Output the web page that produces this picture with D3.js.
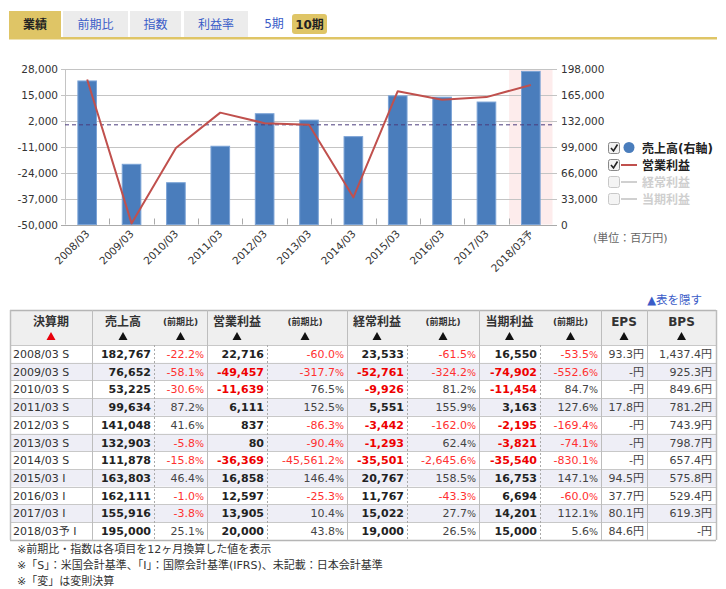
<!DOCTYPE html>
<html><head><meta charset="utf-8">
<script src="https://cdn.jsdelivr.net/npm/d3@7"></script>
<style>
html,body{margin:0;padding:0;background:#fff;}
svg{display:block;font-family:"DejaVu Sans","Noto Sans CJK JP",sans-serif;}
</style></head><body>
<svg id="c" width="726" height="589"></svg>
<script>
// ---- data ----
const categories = ["2008/03","2009/03","2010/03","2011/03","2012/03","2013/03","2014/03","2015/03","2016/03","2017/03","2018/03予"];
const periods = ["2008/03 S","2009/03 S","2010/03 S","2011/03 S","2012/03 S","2013/03 S","2014/03 S","2015/03 I","2016/03 I","2017/03 I","2018/03予 I"];
const sales = [182767,76652,53225,99634,141048,132903,111878,163803,162111,155916,195000];
const salesYoY = [-22.2,-58.1,-30.6,87.2,41.6,-5.8,-15.8,46.4,-1.0,-3.8,25.1];
const opProfit = [22716,-49457,-11639,6111,837,80,-36369,16858,12597,13905,20000];
const opYoY = [-60.0,-317.7,76.5,152.5,-86.3,-90.4,-45561.2,146.4,-25.3,10.4,43.8];
const ordProfit = [23533,-52761,-9926,5551,-3442,-1293,-35501,20767,11767,15022,19000];
const ordYoY = [-61.5,-324.2,81.2,155.9,-162.0,62.4,-2645.6,158.5,-43.3,27.7,26.5];
const netProfit = [16550,-74902,-11454,3163,-2195,-3821,-35540,16753,6694,14201,15000];
const netYoY = [-53.5,-552.6,84.7,127.6,-169.4,-74.1,-830.1,147.1,-60.0,112.1,5.6];
const eps = [93.3,null,null,17.8,null,null,null,94.5,37.7,80.1,84.6];
const bps = [1437.4,925.3,849.6,781.2,743.9,798.7,657.4,575.8,529.4,619.3,null];
const leftTicks = [-50000,-37000,-24000,-11000,2000,15000,28000];
const rightTicks = [0,33000,66000,99000,132000,165000,198000];
const tabs = ["業績","前期比","指数","利益率"];
const legendItems = [
  {name:"売上高(右軸)", kind:"dot", on:true},
  {name:"営業利益", kind:"line", on:true},
  {name:"経常利益", kind:"line", on:false},
  {name:"当期利益", kind:"line", on:false}
];
const notes = ["※前期比・指数は各項目を12ヶ月換算した値を表示",
  "※「S」：米国会計基準、「I」：国際会計基準(IFRS)、未記載：日本会計基準",
  "※「変」は変則決算"];

const svg = d3.select("#c");
const loc = d3.formatLocale({decimal:".",thousands:",",grouping:[3],currency:["",""],minus:"-"});
const fmtN = loc.format(",");
const fmtP = loc.format(",.1f");

// ---- tabs ----
const tabX = [[9,61],[63,128],[130,181],[184,248]];
tabs.forEach((t,i)=>{
  const [a,b] = tabX[i];
  svg.append("rect").attr("x",a).attr("y",11).attr("width",b-a).attr("height",27)
    .attr("fill", i===0 ? "#dfc566" : "#ececec");
  svg.append("text").attr("x",(a+b)/2).attr("y",29).attr("text-anchor","middle")
    .attr("font-size",12).attr("font-weight", i===0?"bold":"normal")
    .attr("fill", i===0 ? "#222" : "#3a5cc8").text(t);
});
svg.append("text").attr("x",274).attr("y",28).attr("text-anchor","middle").attr("font-size",12).attr("fill","#3a5cc8").text("5期");
svg.append("rect").attr("x",292).attr("y",14).attr("width",35).attr("height",20).attr("rx",3).attr("fill","#dfc566");
svg.append("text").attr("x",309.5).attr("y",28.5).attr("text-anchor","middle").attr("font-size",12).attr("font-weight","bold").attr("fill","#222").text("10期");
svg.append("rect").attr("x",9).attr("y",37).attr("width",708).attr("height",2.5).attr("fill","#dfc566");

// ---- chart ----
const L = 65, R = 553, T = 69, B = 224.5;
const x = d3.scaleBand().domain(categories).range([L,R]).paddingInner(0.58).paddingOuter(0.29);
const yL = d3.scaleLinear().domain([-50000,28000]).range([B,T]);
const yR = d3.scaleLinear().domain([0,198000]).range([B,T]);
const step = x.step();

// forecast highlight
const lastCat = categories[categories.length-1];
svg.append("rect").attr("x", x(lastCat) - x.paddingOuter()*step + 0.5).attr("y",T)
  .attr("width", step - 1).attr("height", B-T).attr("fill","#fdecec");

// gridlines
const g = svg.append("g");
leftTicks.forEach(v=>{
  g.append("line").attr("x1",L-4).attr("x2",R+4).attr("y1",Math.round(yL(v))+0.5).attr("y2",Math.round(yL(v))+0.5)
    .attr("stroke",v===-50000?"#aaa":"#c4c4c4").attr("stroke-width",1);
});
g.append("line").attr("x1",L+0.5).attr("x2",L+0.5).attr("y1",T).attr("y2",B).attr("stroke","#c4c4c4");
for(let i=1;i<categories.length;i++){
  const xx = Math.round(L + i*step)+0.5;
  g.append("line").attr("x1",xx).attr("x2",xx).attr("y1",B-6).attr("y2",B).attr("stroke","#aaa");
}
svg.append("g").selectAll("text").data(leftTicks).join("text")
  .attr("x",58).attr("y",d=>yL(d)+4).attr("text-anchor","end").attr("font-size",10.5).attr("fill","#333")
  .text(d=>fmtN(d));
svg.append("g").selectAll("text").data(rightTicks).join("text")
  .attr("x",561).attr("y",d=>yR(d)+4).attr("text-anchor","start").attr("font-size",10.5).attr("fill","#333")
  .text(d=>fmtN(d));

// bars
svg.append("g").selectAll("rect").data(categories).join("rect")
  .attr("x",d=>x(d)).attr("width",x.bandwidth())
  .attr("y",(d,i)=>yR(sales[i])).attr("height",(d,i)=>yR(0)-yR(sales[i]))
  .attr("fill","#4a7dbc").attr("stroke","#7ba3d6").attr("stroke-width",1);

// zero dashed line
svg.append("line").attr("x1",L).attr("x2",R).attr("y1",yL(0)).attr("y2",yL(0))
  .attr("stroke","#4b3c7c").attr("stroke-width",1).attr("stroke-dasharray","4,3");

// op profit line
const line = d3.line().x((d,i)=>x(categories[i])+x.bandwidth()/2).y(d=>yL(d));
svg.append("path").datum(opProfit).attr("d",line).attr("fill","none")
  .attr("stroke","#c0504d").attr("stroke-width",2).attr("stroke-linejoin","round");

// x labels
svg.append("g").selectAll("text").data(categories).join("text")
  .attr("transform",d=>`translate(${x(d)+x.bandwidth()/2+3},${B+10}) rotate(-45)`)
  .attr("text-anchor","end").attr("font-size",10.5).attr("fill","#333").text(d=>d);

// legend
legendItems.forEach((it,i)=>{
  const yy = 148 + i*17;
  const gg = svg.append("g");
  gg.append("rect").attr("x",608.5).attr("y",yy-5.5).attr("width",11).attr("height",11).attr("rx",2)
    .attr("fill", it.on ? "#f2f2f2" : "#f4f4f4").attr("stroke", it.on ? "#888" : "#c8c8c8");
  if(it.on){
    gg.append("path").attr("d",`M611,${yy} L613.5,${yy+3} L617.5,${yy-3.5}`).attr("fill","none")
      .attr("stroke","#222").attr("stroke-width",1.6);
  }
  if(it.kind==="dot"){
    gg.append("circle").attr("cx",629).attr("cy",yy-0.5).attr("r",5.5).attr("fill","#4a7dbc");
  } else {
    gg.append("line").attr("x1",621).attr("x2",637).attr("y1",yy).attr("y2",yy)
      .attr("stroke", it.on ? "#c0504d" : "#d0d0d0").attr("stroke-width",2);
  }
  gg.append("text").attr("x",642).attr("y",yy+4.5).attr("font-size",12).attr("font-weight","bold")
    .attr("fill", it.on ? "#222" : "#cfcfcf").text(it.name);
});
svg.append("text").attr("x",593).attr("y",242).attr("font-size",11).attr("fill","#666").text("(単位：百万円)");

// ---- table ----
svg.append("text").attr("x",702).attr("y",304).attr("text-anchor","end").attr("font-size",11.5).attr("fill","#3a5cc8").text("▲表を隠す");

const tTop = 310, hH = 35, rH = 17.72;
const tLeft = 10, tRight = 716;
const solid = [10,92,207,347,479,601,647,716];
const dotted = [154,267,407,540];
const nRows = periods.length;
const tBot = tTop + hH + nRows*rH;

const tg = svg.append("g");
tg.append("rect").attr("x",tLeft).attr("y",tTop).attr("width",tRight-tLeft).attr("height",hH).attr("fill","#efefef");
tg.selectAll("rect.row").data(periods).join("rect").attr("class","row")
  .attr("x",tLeft).attr("y",(d,i)=>tTop+hH+i*rH).attr("width",tRight-tLeft).attr("height",rH)
  .attr("fill",(d,i)=> i%2===1 ? "#eeeef6" : "#ffffff");
for(let i=0;i<=nRows+1;i++){
  const yy = i===0 ? tTop : tTop+hH+(i-1)*rH;
  tg.append("line").attr("x1",tLeft).attr("x2",tRight).attr("y1",Math.round(yy)+0.5).attr("y2",Math.round(yy)+0.5)
    .attr("stroke", (i===0||i===nRows+1) ? "#b5b5b5" : "#c8c8c8").attr("stroke-width",(i===0||i===nRows+1)?1.5:1);
}
solid.forEach(xx=>{
  tg.append("line").attr("x1",xx+0.5).attr("x2",xx+0.5).attr("y1",tTop).attr("y2",tBot)
    .attr("stroke","#bdbdbd").attr("stroke-width",(xx===10||xx===716)?1.5:1);
});
dotted.forEach(xx=>{
  tg.append("line").attr("x1",xx+0.5).attr("x2",xx+0.5).attr("y1",tTop+hH).attr("y2",tBot)
    .attr("stroke","#aaa").attr("stroke-dasharray","2,2");
});

const headers = [
  {t:"決算期", x:51, red:true, big:true},
  {t:"売上高", x:123, big:true},
  {t:"(前期比)", x:180.5},
  {t:"営業利益", x:237, big:true},
  {t:"(前期比)", x:305},
  {t:"経常利益", x:377, big:true},
  {t:"(前期比)", x:443},
  {t:"当期利益", x:509.5, big:true},
  {t:"(前期比)", x:570.5},
  {t:"EPS", x:624, big:true},
  {t:"BPS", x:681.5, big:true}
];
headers.forEach(h=>{
  tg.append("text").attr("x",h.x).attr("y",h.big?326:325).attr("text-anchor","middle")
    .attr("font-size",h.big?12:9).attr("font-weight","bold").attr("fill","#333").text(h.t);
  tg.append("path").attr("d",`M${h.x-4.5},${340} L${h.x+4.5},${340} L${h.x},${332} Z`)
    .attr("fill",h.red?"#e8000b":"#111");
});

const numCols = [
  {vals:sales, xr:151}, {vals:opProfit, xr:264}, {vals:ordProfit, xr:404}, {vals:netProfit, xr:537}
];
const pctCols = [
  {vals:salesYoY, xr:204}, {vals:opYoY, xr:344}, {vals:ordYoY, xr:476}, {vals:netYoY, xr:598}
];
const rowY = i => tTop + hH + i*rH + 13;

tg.selectAll("text.per").data(periods).join("text").attr("class","per")
  .attr("x",13).attr("y",(d,i)=>rowY(i)).attr("font-size",11).attr("fill","#333").text(d=>d);

numCols.forEach(c=>{
  tg.append("g").selectAll("text").data(c.vals).join("text")
    .attr("x",c.xr).attr("y",(d,i)=>rowY(i)).attr("text-anchor","end")
    .attr("font-size",11).attr("font-weight","bold")
    .attr("fill",d=>d<0?"#ee0000":"#222").text(d=>fmtN(d));
});
pctCols.forEach(c=>{
  const tt = tg.append("g").selectAll("text").data(c.vals).join("text")
    .attr("x",c.xr).attr("y",(d,i)=>rowY(i)).attr("text-anchor","end")
    .attr("font-size",11).attr("fill",d=>d<0?"#ff3030":"#444");
  tt.append("tspan").text(d=>fmtP(d));
  tt.append("tspan").attr("font-size",9.5).text("%");
});
tg.append("g").selectAll("text").data(eps).join("text")
  .attr("x",644).attr("y",(d,i)=>rowY(i)).attr("text-anchor","end").attr("font-size",11).attr("fill","#444")
  .text(d=> d==null ? "-円" : fmtP(d)+"円");
tg.append("g").selectAll("text").data(bps).join("text")
  .attr("x",712).attr("y",(d,i)=>rowY(i)).attr("text-anchor","end").attr("font-size",11).attr("fill","#444")
  .text(d=> d==null ? "-円" : fmtP(d)+"円");

notes.forEach((n,i)=>{
  svg.append("text").attr("x",17).attr("y",553+i*16).attr("font-size",11).attr("fill","#333").text(n);
});
</script>
</body></html>
